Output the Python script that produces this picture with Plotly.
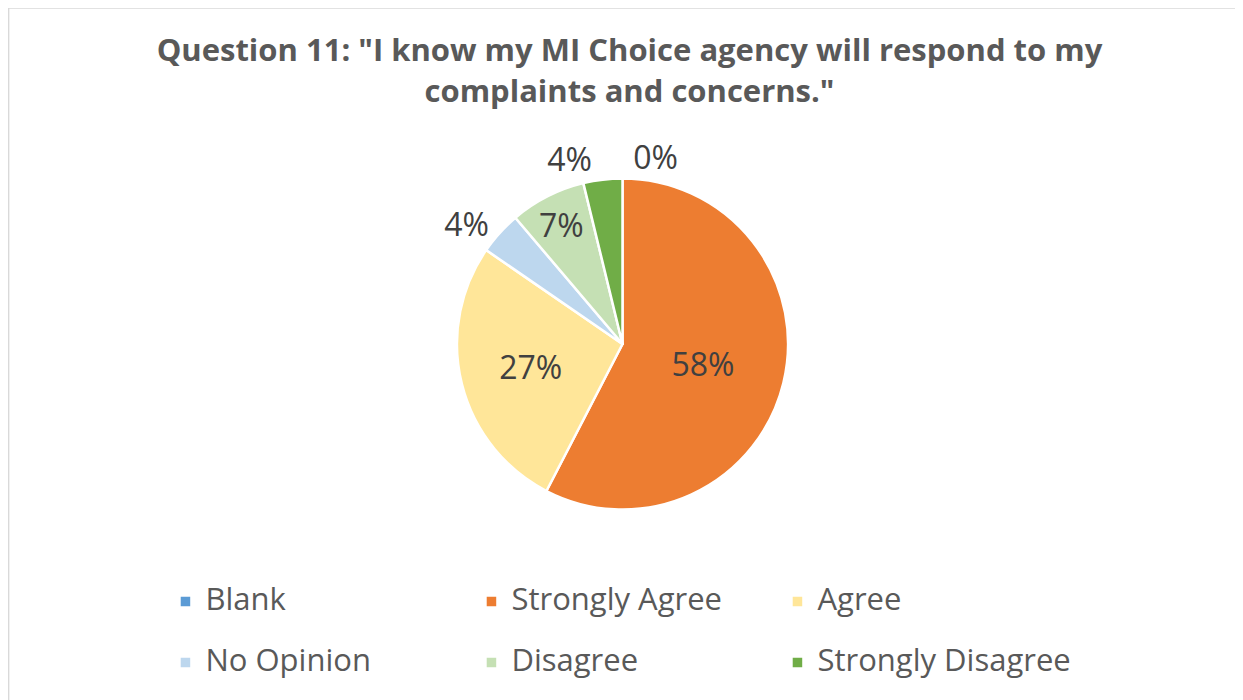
import plotly.graph_objects as go

labels = ["Blank", "Strongly Agree", "Agree", "No Opinion", "Disagree", "Strongly Disagree"]
values = [0.0, 57.6, 27.0, 4.2, 7.4, 3.8]
colors = ["#5B9BD5", "#ED7D31", "#FFE699", "#BDD7EE", "#C5E0B4", "#70AD47"]
text_positions = ["outside", "inside", "inside", "outside", "inside", "outside"]
title_text = 'Question 11: "I know my MI Choice agency will respond to my<br>complaints and concerns."'

FONT = "Open Sans, sans-serif"
# two-line legend entries (empty first line) give the wider row spacing of the original;
# the visible text is drawn at 31px
legend_labels = ['&nbsp;<br><span style="font-size:31px">%s</span>' % l for l in labels]

fig = go.Figure(go.Pie(
    labels=legend_labels,
    values=values,
    sort=False,
    direction="clockwise",
    rotation=0,
    marker=dict(colors=colors, line=dict(color="white", width=2.5)),
    textinfo="percent",
    texttemplate="%{percent:.0%}",
    textposition=text_positions,
    insidetextorientation="horizontal",
    textfont=dict(family=FONT, size=32, color="#404040"),
    outsidetextfont=dict(family=FONT, size=32, color="#404040"),
    automargin=False,
    domain=dict(x=[0, 0.986], y=[0.2835, 0.7565]),
    showlegend=True,
))

fig.update_layout(
    width=1243, height=700,
    margin=dict(l=121.5, r=121.5, t=0, b=0),
    paper_bgcolor="white",
    title=dict(text="<b>" + title_text + "</b>", x=0.5, xanchor="center",
               y=0.924, yanchor="top",
               font=dict(family=FONT, size=31, color="#595959")),
    legend=dict(orientation="h", x=0.0355, xanchor="left", y=0.1293, yanchor="middle",
                bgcolor="rgba(0,0,0,0)", valign="bottom",
                font=dict(family=FONT, size=22.3, color="#595959"),
                entrywidth=261, entrywidthmode="pixels", traceorder="normal"),
    shapes=[dict(type="rect", xref="paper", yref="paper", x0=-0.1215, y0=0, x1=1.1215, y1=1,
                 line=dict(color="#D9D9D9", width=1.5))],
)

fig.write_html("out.html")
